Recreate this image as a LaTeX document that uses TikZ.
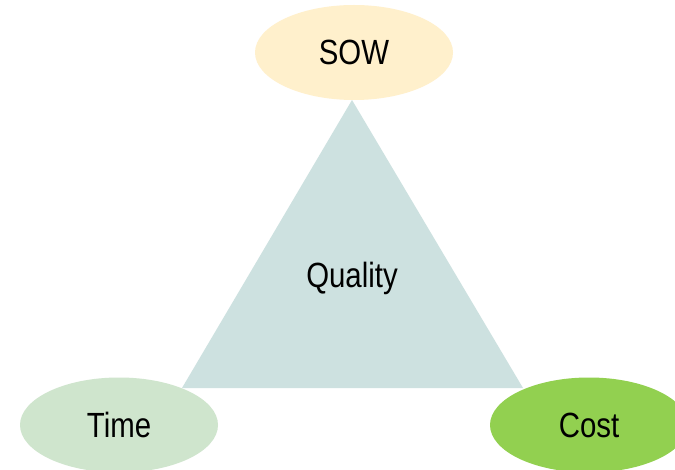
\documentclass[tikz,border=0pt]{standalone}
\usepackage{fontspec}
\setmainfont{Liberation Sans}[FakeStretch=0.84]
\usetikzlibrary{shapes.geometric}
\definecolor{tri}{HTML}{CDE1E0}
\definecolor{sow}{HTML}{FFF0CC}
\definecolor{timec}{HTML}{CFE5CD}
\definecolor{costc}{HTML}{92D050}
\begin{document}
\begin{tikzpicture}[x=1pt,y=1pt,
  lbl/.style={font=\fontsize{35}{40}\selectfont, text=black},
  oval/.style={ellipse, minimum width=198pt, minimum height=95pt, inner sep=0pt, lbl}]
\useasboundingbox (0,0) rectangle (675,469);
\fill[white] (0,0) rectangle (675,469);
\coordinate (apex) at (352,369);
\coordinate (bl) at (182,81);
\coordinate (br) at (523,81);
\fill[tri] (apex) -- (bl) -- (br) -- cycle;
\node[lbl] (q) at (352,191) {Quality};
\node[oval, fill=sow] (s) at (354,416.5) {SOW};
\node[oval, fill=timec] (t) at (119,44) {Time};
\node[oval, fill=costc] (c) at (589,44) {Cost};
\end{tikzpicture}
\end{document}
